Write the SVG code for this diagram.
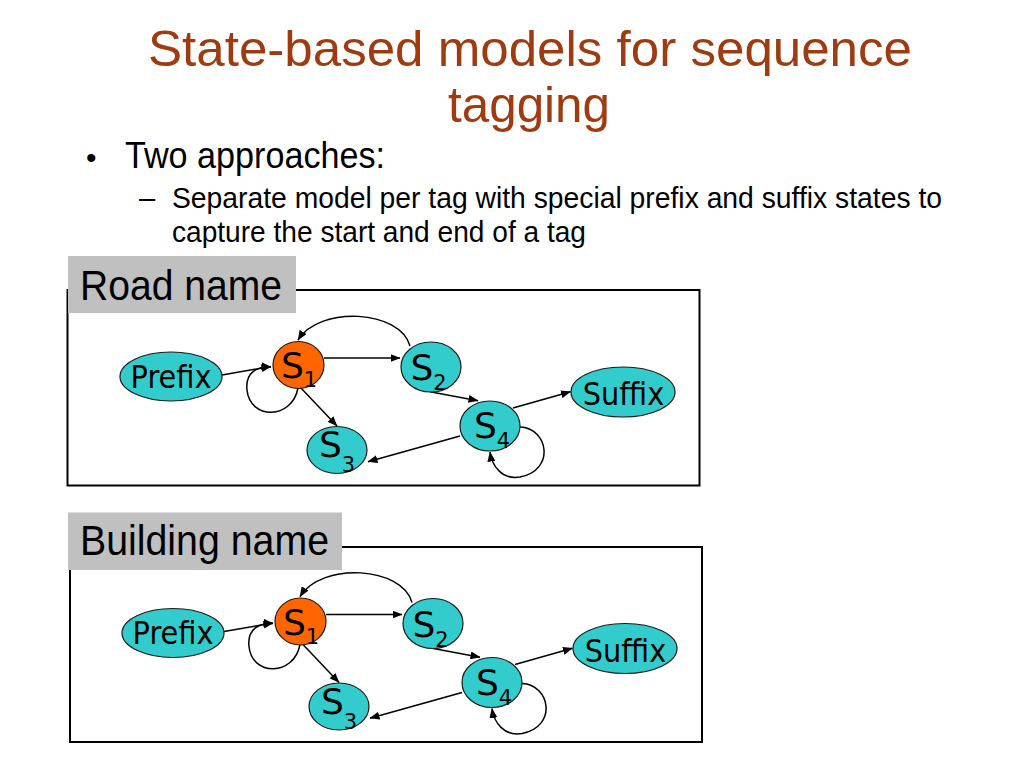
<svg xmlns="http://www.w3.org/2000/svg" width="1024" height="768" viewBox="0 0 1024 768">
<style>
.title{font-family:"Liberation Sans",Arial,sans-serif;font-size:50px;fill:#9E3B11;text-anchor:middle}
.body{font-family:"Liberation Sans",Arial,sans-serif;fill:#000}
.lbl{font-family:"Liberation Sans",Arial,sans-serif;font-size:42px;fill:#000}
.lblbg{fill:#C0C0C0}
.frame{fill:none;stroke:#000;stroke-width:2}
.teal{fill:#33CCCC;stroke:#1a1a1a;stroke-width:1.2}
.orange{fill:#FF6600;stroke:#1a1a1a;stroke-width:1.2}
.nt{font-family:"DejaVu Sans Condensed","DejaVu Sans",Verdana,sans-serif;font-size:32px;fill:#000;text-anchor:middle}
.st{font-family:"DejaVu Sans",Verdana,sans-serif;font-size:36px;fill:#000}
.sub{font-size:21px}
.edge{fill:none;stroke:#000;stroke-width:1.5;marker-end:url(#arr)}
</style>
<defs>
<marker id="arr" markerUnits="userSpaceOnUse" markerWidth="10" markerHeight="8" refX="9.5" refY="4" orient="auto">
<path d="M0,0 L10,4 L0,8 z" fill="#000"/>
</marker>
</defs>
<rect width="1024" height="768" fill="#fff"/>
<g id="title">
<text class="title" x="530" y="66" textLength="764" lengthAdjust="spacingAndGlyphs">State-based models for sequence</text>
<text class="title" x="529" y="122" textLength="162" lengthAdjust="spacingAndGlyphs">tagging</text>
</g>
<g id="bullets">
<text class="body" x="86" y="168" font-size="30">•</text>
<text class="body" x="125" y="168" font-size="36" textLength="260" lengthAdjust="spacingAndGlyphs">Two approaches:</text>
<text class="body" x="139" y="208" font-size="29">–</text>
<text class="body" x="172" y="208" font-size="29" textLength="770" lengthAdjust="spacingAndGlyphs">Separate model per tag with special prefix and suffix states to</text>
<text class="body" x="172" y="242" font-size="29" textLength="414" lengthAdjust="spacingAndGlyphs">capture the start and end of a tag</text>
</g>

<g id="road">
<rect class="frame" x="67.5" y="290" width="632" height="195.5"/>
<g id="road-label">
<rect class="lblbg" x="68" y="256" width="228" height="57"/>
<text class="lbl" x="80" y="300" textLength="202" lengthAdjust="spacingAndGlyphs">Road name</text>
</g>
<g id="road-edges">
<path class="edge" d="M222,375 L271,366.5"/>
<path class="edge" d="M324,358 L400,358"/>
<path class="edge" d="M410,346 C400,310 320,305 298,340"/>
<path class="edge" d="M298,388 C292,420 250,420 247,390 C245,372 258,366 271,367"/>
<path class="edge" d="M300,387 L337,426"/>
<path class="edge" d="M430,391.7 L478,400.7"/>
<path class="edge" d="M513,408 L570.5,391.7"/>
<path class="edge" d="M460,436 L368,461.7"/>
<path class="edge" d="M520,427 C548,428 556,470 520,477 C502,480 492,466 490,452"/>
</g>
<g id="road-prefix"><ellipse class="teal" cx="171" cy="376.5" rx="51" ry="24.5"/><text class="nt" x="171" y="387.5">Prefix</text></g>
<g id="road-s1"><ellipse class="orange" cx="298.5" cy="365" rx="25.5" ry="23.5"/><text class="st" x="281" y="378">S<tspan class="sub" dy="9">1</tspan></text></g>
<g id="road-s2"><ellipse class="teal" cx="431" cy="367" rx="30" ry="25"/><text class="st" x="410.5" y="380">S<tspan class="sub" dy="10">2</tspan></text></g>
<g id="road-s3"><ellipse class="teal" cx="337" cy="450" rx="30" ry="23.5"/><text class="st" x="319" y="457">S<tspan class="sub" dy="15">3</tspan></text></g>
<g id="road-s4"><ellipse class="teal" cx="490" cy="426" rx="30" ry="25"/><text class="st" x="474" y="438">S<tspan class="sub" dy="10">4</tspan></text></g>
<g id="road-suffix"><ellipse class="teal" cx="623" cy="392" rx="52" ry="25"/><text class="nt" x="623.5" y="405">Suffix</text></g>
</g>

<g id="building">
<rect class="frame" x="70" y="547" width="632" height="195"/>
<g id="building-label">
<rect class="lblbg" x="68" y="512.5" width="274" height="57.5"/>
<text class="lbl" x="80" y="555" textLength="249" lengthAdjust="spacingAndGlyphs">Building name</text>
</g>
<g transform="translate(2,256.5)">
<g id="building-edges">
<path class="edge" d="M222,375 L271,366.5"/>
<path class="edge" d="M324,358 L400,358"/>
<path class="edge" d="M410,346 C400,310 320,305 298,340"/>
<path class="edge" d="M298,388 C292,420 250,420 247,390 C245,372 258,366 271,367"/>
<path class="edge" d="M300,387 L337,426"/>
<path class="edge" d="M430,391.7 L478,400.7"/>
<path class="edge" d="M513,408 L570.5,391.7"/>
<path class="edge" d="M460,436 L368,461.7"/>
<path class="edge" d="M520,427 C548,428 556,470 520,477 C502,480 492,466 490,452"/>
</g>
<g id="building-prefix"><ellipse class="teal" cx="171" cy="376.5" rx="51" ry="24.5"/><text class="nt" x="171" y="387.5">Prefix</text></g>
<g id="building-s1"><ellipse class="orange" cx="298.5" cy="365" rx="25.5" ry="23.5"/><text class="st" x="281" y="378">S<tspan class="sub" dy="9">1</tspan></text></g>
<g id="building-s2"><ellipse class="teal" cx="431" cy="367" rx="30" ry="25"/><text class="st" x="410.5" y="380">S<tspan class="sub" dy="10">2</tspan></text></g>
<g id="building-s3"><ellipse class="teal" cx="337" cy="450" rx="30" ry="23.5"/><text class="st" x="319" y="457">S<tspan class="sub" dy="15">3</tspan></text></g>
<g id="building-s4"><ellipse class="teal" cx="490" cy="426" rx="30" ry="25"/><text class="st" x="474" y="438">S<tspan class="sub" dy="10">4</tspan></text></g>
<g id="building-suffix"><ellipse class="teal" cx="623" cy="392" rx="52" ry="25"/><text class="nt" x="623.5" y="405">Suffix</text></g>
</g>
</g>
</svg>
